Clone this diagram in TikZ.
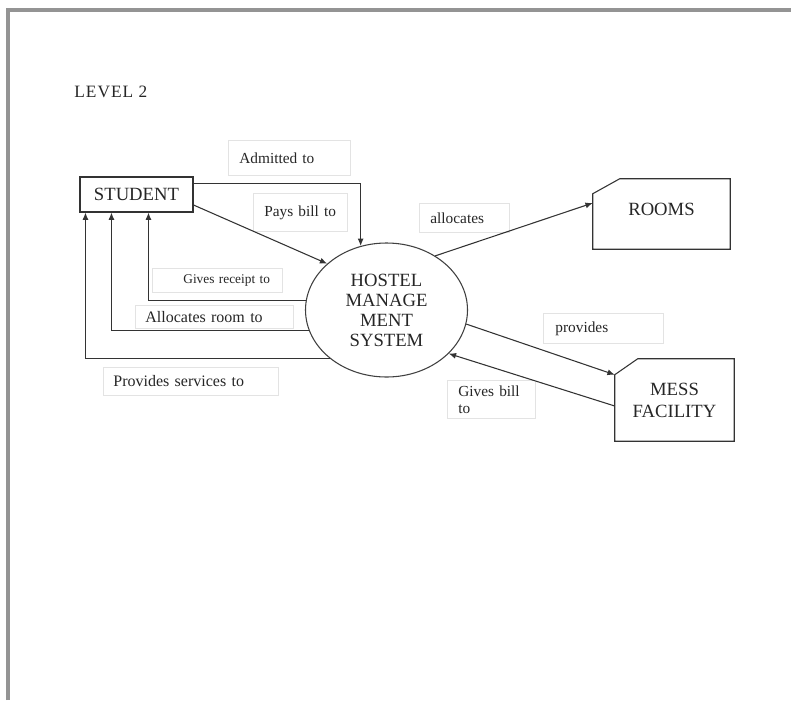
\documentclass[tikz,border=0pt]{standalone}
\usepackage{fontspec}
\setmainfont{Liberation Serif}
\usetikzlibrary{shapes.geometric,arrows.meta,calc}
\begin{document}
\begin{tikzpicture}[x=0.75pt,y=-0.75pt,
  txt/.style={text=black!85},
  ent/.style={draw=none, inner sep=0pt, txt, align=center, font=\fontsize{14}{16.5}\selectfont},
  shapeline/.style={draw=black!80, line width=0.8pt},
  lbl/.style={draw=black!11, line width=0.6pt, inner sep=0pt, anchor=north west, align=left, txt},
  arr/.style={draw=black!80, line width=0.8pt, -{Latex[length=5.5pt,width=4.5pt]}},
  conn/.style={draw=black!80, line width=0.8pt}]
\useasboundingbox (0,0) rectangle (791,700);
\fill[white] (0,0) rectangle (791,700);
% page frame
\draw[line width=2.4pt, draw=black!42] (8,700) -- (8,10) -- (791,10);
% title
\node[anchor=west, inner sep=0pt, txt, font=\fontsize{13}{15}\selectfont] (title) at (74,92) {\addfontfeature{LetterSpace=6}LEVEL 2};
% entities
\node[ent, draw=black!80, line width=0.8pt, minimum width=84.75pt, minimum height=26.25pt] (student) at (136.5,194.5) {STUDENT};
\node[ent, ellipse, draw=black!75, line width=0.8pt, minimum width=121.5pt, minimum height=100.5pt, font=\fontsize{14}{15}\selectfont] (hms) at (386.5,310) {HOSTEL\\MANAGE\\MENT\\SYSTEM};
\node[ent, minimum width=102.75pt, minimum height=52.5pt] (rooms) at (661.5,214) {\raisebox{3.75pt}[\height][\depth]{ROOMS}};
\node[ent, minimum width=89.25pt, minimum height=61.5pt] (mess) at (674.5,400) {MESS\\FACILITY};
\draw[shapeline] ($(rooms.north west)+(27,0)$) -- (rooms.north east) -- (rooms.south east) -- (rooms.south west) -- ($(rooms.north west)+(0,15)$) -- cycle;
\draw[shapeline] ($(mess.north west)+(23,0)$) -- (mess.north east) -- (mess.south east) -- (mess.south west) -- ($(mess.north west)+(0,16)$) -- cycle;
% labels
\node[lbl, text width=91.5pt, minimum height=26.25pt, font=\fontsize{11.5}{13}\selectfont] (ladm) at (228,140) {\hspace*{8.25pt}Admitted to};
\node[lbl, text width=70.5pt, minimum height=28.5pt, font=\fontsize{11.5}{13}\selectfont] (lpay) at (253,193) {\hspace*{8.25pt}Pays bill to};
\node[lbl, text width=97.5pt, minimum height=18pt, font=\fontsize{10}{12}\selectfont] (lrec) at (152,268) {\hspace*{23.25pt}Gives receipt to};
\node[lbl, text width=118.5pt, minimum height=17.25pt, font=\fontsize{12}{14}\selectfont] (lroom) at (135,305) {\hspace*{7.5pt}Allocates room to};
\node[lbl, text width=131.25pt, minimum height=21pt, font=\fontsize{12}{14}\selectfont] (lserv) at (103,367) {\hspace*{7.5pt}Provides services to};
\node[lbl, text width=67.5pt, minimum height=21.75pt, font=\fontsize{11.5}{13}\selectfont] (lalloc) at (419,203) {\hspace*{8.25pt}allocates};
\node[lbl, text width=90pt, minimum height=22.5pt, font=\fontsize{11.5}{13}\selectfont] (lprov) at (543,313) {\hspace*{9pt}provides};
\node[lbl, text width=66pt, minimum height=28.5pt, font=\fontsize{11.5}{12.75}\selectfont] (lbill) at (447,380) {\hspace*{8.25pt}Gives bill\\\hspace*{8.25pt}to};
% connectors
\draw[arr] ($(student.north east)+(0,7)$) -| (hms.112.8);
\draw[arr] ($(student.east)+(0,10.5)$) -- (hms.142);
\draw[arr] (hms.173) -| ($(student.south west)+(69,0)$);
\draw[arr] (hms.195.3) -| ($(student.south west)+(32,0)$);
\draw[arr] (hms.221.6) -| ($(student.south west)+(6,0)$);
\draw[arr] (hms.48) -- ($(rooms.west)+(0,-11)$);
\draw[arr] (hms.350.7) -- ($(mess.north west)+(0,16)$);
\draw[arr] ($(mess.west)+(0,6)$) -- (hms.325.5);
\end{tikzpicture}
\end{document}
